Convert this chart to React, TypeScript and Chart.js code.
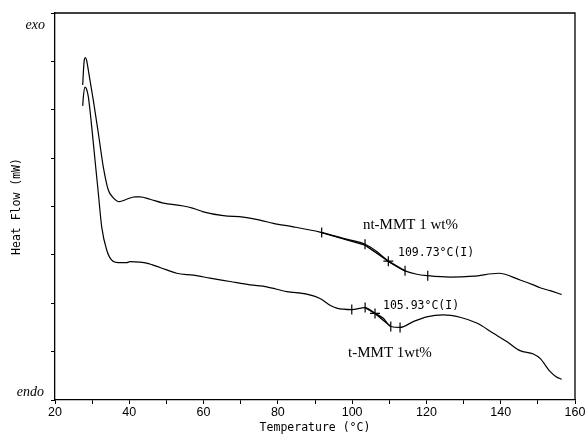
import React, { useEffect, useRef } from "react";
import { Chart, registerables } from "chart.js";

Chart.register(...registerables);

// nt-MMT 1 wt% (upper curve): temperature (°C) and heat flow (arbitrary units, 0..8 box)
const ntTemp = [27.46, 27.67, 27.89, 28.16, 28.48, 28.97, 30.31, 31.66, 33.0, 34.35, 35.7, 37.31, 39.31, 41.54, 42.89, 45.58, 49.16, 54.54, 57.24, 59.93, 65.31, 70.7, 75.2, 78.78, 84.16, 91.35, 97.62, 103.47, 106.62, 109.74, 112.0, 114.24, 117.39, 120.35, 126.35, 132.63, 139.5, 145.2, 148.78, 150.59, 153.28, 156.43];
const ntFlow = [6.51, 6.82, 7.03, 7.08, 7.03, 6.82, 6.2, 5.52, 4.82, 4.34, 4.18, 4.1, 4.15, 4.2, 4.2, 4.15, 4.07, 4.01, 3.96, 3.89, 3.81, 3.78, 3.72, 3.65, 3.58, 3.47, 3.34, 3.22, 3.07, 2.87, 2.76, 2.67, 2.6, 2.57, 2.54, 2.56, 2.62, 2.48, 2.38, 2.32, 2.26, 2.18];

// t-MMT 1wt% (lower curve)
const tTemp = [27.46, 27.67, 28.08, 28.48, 28.97, 29.88, 30.77, 31.66, 32.57, 33.92, 35.27, 37.04, 38.04, 39.31, 40.19, 42.89, 44.69, 48.27, 52.77, 57.24, 61.73, 67.12, 72.5, 77.0, 82.38, 87.77, 91.35, 94.04, 95.85, 99.89, 103.47, 106.16, 108.4, 110.39, 112.89, 116.47, 120.08, 124.55, 129.04, 133.54, 138.01, 141.62, 145.2, 148.78, 150.59, 153.28, 154.9, 156.43];
const tFlow = [6.08, 6.3, 6.47, 6.43, 6.27, 5.65, 4.96, 4.28, 3.58, 3.1, 2.89, 2.84, 2.84, 2.84, 2.86, 2.85, 2.83, 2.74, 2.62, 2.58, 2.52, 2.45, 2.38, 2.34, 2.24, 2.19, 2.1, 1.96, 1.9, 1.87, 1.91, 1.79, 1.69, 1.52, 1.5, 1.62, 1.72, 1.76, 1.71, 1.59, 1.38, 1.21, 1.02, 0.95, 0.86, 0.59, 0.48, 0.43];

// analysis markers (vertical ticks) and inflection points (crosses)
const ntTickTemp = [91.8, 103.47, 114.24, 120.35];
const ntTickFlow = [3.46, 3.22, 2.67, 2.57];
const ntInflTemp = [109.74];
const ntInflFlow = [2.87];
const tTickTemp = [99.9, 103.5, 110.4, 112.9];
const tTickFlow = [1.87, 1.91, 1.52, 1.5];
const tInflTemp = [106.16];
const tInflFlow = [1.79];

// tangent segments
const ntTanTemp = [91.8, 103.47, 109.74, 114.24];
const ntTanFlow = [3.46, 3.2, 2.87, 2.67];
const tTanTemp = [103.5, 106.16, 110.4];
const tTanFlow = [1.91, 1.79, 1.52];

const xTicks = [20, 30, 40, 50, 60, 70, 80, 90, 100, 110, 120, 130, 140, 150, 160];
const xLabels = ["20", "", "40", "", "60", "", "80", "", "100", "", "120", "", "140", "", "160"];

const ntLabel = "nt-MMT 1 wt%";
const tLabel = "t-MMT 1wt%";
const ntInflLabel = "109.73°C(I)";
const tInflLabel = "105.93°C(I)";

const zip = (xs: number[], ys: number[]) => xs.map((x, i) => ({ x, y: ys[i] }));

const SERIF = "'Liberation Serif', 'Times New Roman', serif";
const MONO = "'DejaVu Sans Mono', monospace";
const SANS = "'Liberation Sans', Arial, sans-serif";

const decor = {
  id: "decor",
  afterDraw(chart: any) {
    const { ctx, chartArea: a, scales } = chart;
    const xs = scales.x;
    const ys = scales.y;
    ctx.save();
    ctx.strokeStyle = "#000";
    ctx.lineWidth = 1.3;
    ctx.beginPath();
    ctx.moveTo(a.left, a.top);
    ctx.lineTo(a.right, a.top);
    ctx.lineTo(a.right, a.bottom);
    ctx.stroke();
    ctx.fillStyle = "#000";
    ctx.textBaseline = "middle";
    ctx.textAlign = "right";
    ctx.font = `italic 14px ${SERIF}`;
    ctx.fillText("exo", a.left - 10, a.top + 12);
    ctx.fillText("endo", a.left - 11, a.bottom - 8);
    ctx.textAlign = "left";
    ctx.font = `15px ${SERIF}`;
    ctx.fillText(ntLabel, xs.getPixelForValue(102.9), ys.getPixelForValue(3.62));
    ctx.fillText(tLabel, xs.getPixelForValue(98.9), ys.getPixelForValue(0.97));
    ctx.font = `11.5px ${MONO}`;
    ctx.fillText(ntInflLabel, xs.getPixelForValue(112.35), ys.getPixelForValue(3.04));
    ctx.fillText(tInflLabel, xs.getPixelForValue(108.3), ys.getPixelForValue(1.94));
    ctx.restore();
  },
};

export default function App() {
  const ref = useRef<HTMLCanvasElement>(null);
  useEffect(() => {
    if (!ref.current) return;
    Chart.defaults.color = "#000";
    const line = (data: any) => ({
      type: "line",
      data,
      borderColor: "#000",
      borderWidth: 1.2,
      pointRadius: 0,
      cubicInterpolationMode: "monotone",
      fill: false,
    });
    const tan = (data: any) => ({
      type: "line",
      data,
      borderColor: "#000",
      borderWidth: 1.4,
      pointRadius: 0,
      tension: 0,
      fill: false,
    });
    const marks = (data: any, style: string, rot: number) => ({
      type: "scatter",
      data,
      pointStyle: style,
      rotation: rot,
      pointRadius: 5,
      borderColor: "#000",
      backgroundColor: "#000",
      borderWidth: 1.2,
    });
    const chart = new Chart(ref.current, {
      type: "line",
      data: {
        datasets: [
          line(zip(ntTemp, ntFlow)),
          line(zip(tTemp, tFlow)),
          tan(zip(ntTanTemp, ntTanFlow)),
          tan(zip(tTanTemp, tTanFlow)),
          marks(zip(ntTickTemp, ntTickFlow), "line", 90),
          marks(zip(tTickTemp, tTickFlow), "line", 90),
          marks(zip(ntInflTemp, ntInflFlow), "cross", 0),
          marks(zip(tInflTemp, tInflFlow), "cross", 0),
        ] as any,
      },
      options: {
        responsive: false,
        animation: false,
        events: [],
        layout: { padding: { left: 0, right: 11, top: 13, bottom: 0 } },
        plugins: { legend: { display: false }, tooltip: { enabled: false } },
        scales: {
          x: {
            type: "linear",
            min: 20,
            max: 160,
            afterBuildTicks: (s: any) => {
              s.ticks = xTicks.map((v) => ({ value: v }));
            },
            ticks: {
              autoSkip: false,
              maxRotation: 0,
              padding: 1,
              font: { family: SANS, size: 12.5 },
              callback: (v: any) => xLabels[xTicks.indexOf(Number(v))] ?? "",
            },
            grid: { display: true, drawOnChartArea: false, drawTicks: true, tickLength: 4, color: "#000", lineWidth: 1 },
            border: { display: true, color: "#000", width: 1.3 },
            title: {
              display: true,
              text: "Temperature (°C)",
              font: { family: MONO, size: 11.5 },
              padding: { top: 0, bottom: 0 },
            },
            afterFit: (s: any) => {
              s.height = 35;
              s.paddingLeft = 0;
              s.paddingRight = 0;
            },
          },
          y: {
            type: "linear",
            min: 0,
            max: 8,
            ticks: { stepSize: 1, display: false },
            grid: { display: true, drawOnChartArea: false, drawTicks: true, tickLength: 4, color: "#000", lineWidth: 1 },
            border: { display: true, color: "#000", width: 1.3 },
            title: {
              display: true,
              text: "Heat Flow (mW)",
              font: { family: MONO, size: 11.5 },
              padding: { top: 10, bottom: 0 },
            },
            afterFit: (s: any) => {
              s.width = 55;
              s.paddingTop = 0;
              s.paddingBottom = 0;
            },
          },
        },
      } as any,
      plugins: [decor],
    });
    return () => chart.destroy();
  }, []);
  return (
    <div style={{ position: "fixed", left: 0, top: 0, width: 586, height: 435, background: "#fff" }}>
      <canvas ref={ref} width={586} height={435} style={{ display: "block" }} />
    </div>
  );
}
